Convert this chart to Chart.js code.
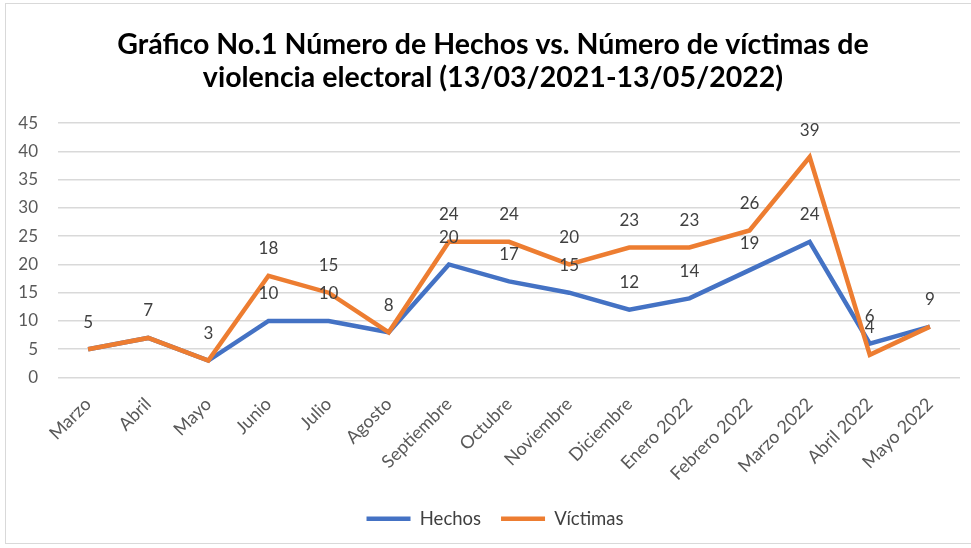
<!DOCTYPE html>
<html>
<head>
<meta charset="utf-8">
<script src="https://cdn.jsdelivr.net/npm/chart.js@4/dist/chart.umd.min.js"></script>
<style>
  html, body { margin: 0; padding: 0; background: #fff; }
  #wrap { position: relative; width: 971px; height: 548px; }
  #frame { position: absolute; left: 5px; top: 3px; width: 980px; height: 541px; border: 1px solid #d9d9d9; box-sizing: border-box; pointer-events: none; }
  canvas { position: absolute; left: 0; top: 0; }
</style>
</head>
<body>
<div id="wrap">
  <canvas id="c" width="971" height="548"></canvas>
  <div id="frame"></div>
</div>
<script>
const categories = ["Marzo", "Abril", "Mayo", "Junio", "Julio", "Agosto", "Septiembre", "Octubre", "Noviembre", "Diciembre", "Enero 2022", "Febrero 2022", "Marzo 2022", "Abril 2022", "Mayo 2022"];
const hechos = [5, 7, 3, 10, 10, 8, 20, 17, 15, 12, 14, 19, 24, 6, 9];
const victimas = [5, 7, 3, 18, 15, 8, 24, 24, 20, 23, 23, 26, 39, 4, 9];
const titleLines = ["Gráfico No.1 Número de Hechos vs. Número de víctimas de", "violencia electoral (13/03/2021-13/05/2022)"];
const seriesNames = ["Hechos", "Víctimas"];

const FONT = "Lato, 'Open Sans', sans-serif";

const labelPlugin = {
  id: 'dataLabels',
  afterDatasetsDraw(chart) {
    const ctx = chart.ctx;
    ctx.save();
    ctx.font = "17px " + FONT;
    ctx.fillStyle = "#404040";
    ctx.textAlign = "center";
    ctx.textBaseline = "middle";
    const drawn = new Set();
    chart.data.datasets.forEach((ds, i) => {
      const meta = chart.getDatasetMeta(i);
      meta.data.forEach((pt, j) => {
        const key = j + ':' + ds.data[j];
        if (drawn.has(key)) return;
        drawn.add(key);
        ctx.fillText(String(ds.data[j]), pt.x, pt.y - 27);
      });
    });
    ctx.restore();
  }
};

// Center title and legend on the (wider) outer frame, like the original chart.
const shiftPlugin = {
  id: 'shiftBoxes',
  afterLayout(chart) {
    if (chart.titleBlock) { chart.titleBlock.left += 13; chart.titleBlock.right += 13; }
    if (chart.legend) { chart.legend.left += 15; chart.legend.right += 15; }
  }
};

new Chart(document.getElementById('c'), {
  type: 'line',
  data: {
    labels: categories,
    datasets: [
      { label: seriesNames[0], data: hechos, borderColor: '#4472C4', backgroundColor: '#4472C4', borderWidth: 4.5, pointRadius: 0, tension: 0, order: 1 },
      { label: seriesNames[1], data: victimas, borderColor: '#ED7D31', backgroundColor: '#ED7D31', borderWidth: 4.5, pointRadius: 0, tension: 0, order: 0 }
    ]
  },
  options: {
    responsive: false,
    animation: false,
    events: [],
    layout: { padding: { top: 28, right: 11, bottom: 10, left: 0 } },
    plugins: {
      title: {
        display: true,
        text: titleLines,
        color: '#000',
        font: { family: FONT, size: 28.5, weight: 'bold', lineHeight: 1.16 },
        padding: { top: 0, bottom: 29 }
      },
      legend: {
        position: 'bottom',
        labels: {
          font: { family: FONT, size: 18.5 },
          color: '#404040',
          usePointStyle: true,
          pointStyle: 'line',
          pointStyleWidth: 44,
          boxWidth: 44,
          boxHeight: 4,
          padding: 20,
          sort: (a, b) => a.datasetIndex - b.datasetIndex
        }
      },
      tooltip: { enabled: false }
    },
    scales: {
      x: {
        offset: true,
        grid: { display: false, drawTicks: false },
        border: { display: false },
        ticks: {
          font: { family: FONT, size: 18 },
          color: '#595959',
          minRotation: 45,
          maxRotation: 45,
          padding: 16,
          autoSkip: false
        },
        afterFit(scale) { scale.height = 112; }
      },
      y: {
        min: 0,
        max: 45,
        grid: { color: '#d9d9d9', lineWidth: 1.5, drawTicks: false },
        border: { display: false },
        ticks: {
          stepSize: 5,
          font: { family: FONT, size: 17 },
          color: '#595959',
          padding: 20
        },
        afterFit(scale) { scale.width = 58; }
      }
    }
  },
  plugins: [labelPlugin, shiftPlugin]
});
</script>
</body>
</html>
